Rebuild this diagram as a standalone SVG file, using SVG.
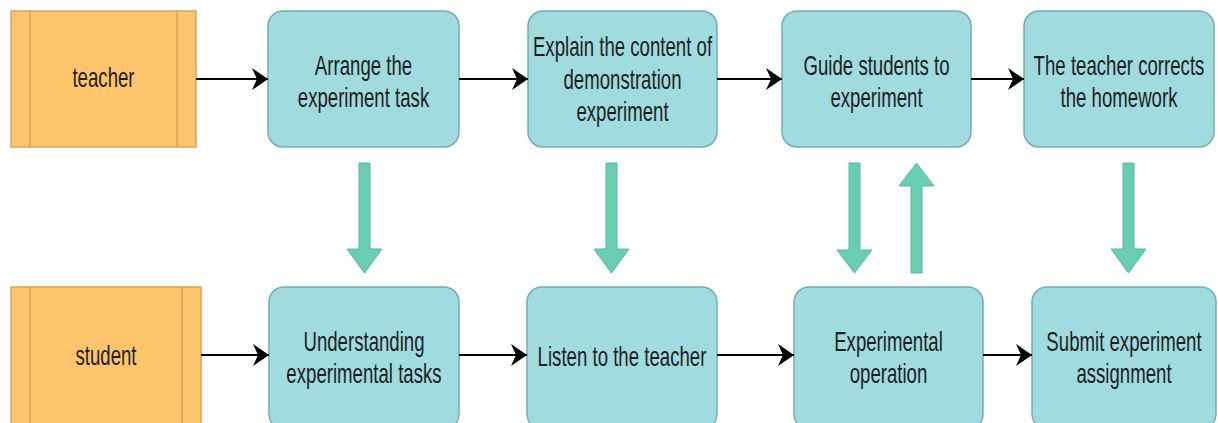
<svg xmlns="http://www.w3.org/2000/svg" width="1218" height="423" viewBox="0 0 1218 423">
  <defs>
    <style>
      .proc { fill: #A0DBDF; stroke: #74AEB2; stroke-width: 1.5; }
      .actor { fill: #FEC56C; stroke: #D6A55C; stroke-width: 1.5; }
      .t { font-family: "Liberation Sans", Arial, sans-serif; font-size: 27px; fill: #1e1e1e; text-anchor: middle; }
      .conn { stroke: #000; stroke-width: 2; fill: none; marker-end: url(#ah); }
      .block { fill: #69CDB1; stroke: #5DB99E; stroke-width: 1; }
    </style>
    <marker id="ah" markerUnits="userSpaceOnUse" markerWidth="18" markerHeight="24" viewBox="-17 -12 18 24" refX="0" refY="0" orient="auto">
      <path d="M0,0 L-16,-11 L-11,0 L-16,11 Z" fill="#000"/>
    </marker>
  </defs>

  <g id="teacher">
    <rect class="actor" x="11" y="11" width="185" height="136"/>
    <line x1="30" y1="11" x2="30" y2="147" stroke="#D6A55C" stroke-width="1.5"/>
    <line x1="177" y1="11" x2="177" y2="147" stroke="#D6A55C" stroke-width="1.5"/>
    <text class="t" transform="translate(103.5 0) scale(0.69 1)"><tspan x="0" y="87">teacher</tspan></text>
  </g>

  <g id="arrange">
    <rect class="proc" x="268" y="11" width="191" height="136" rx="15"/>
    <text class="t" transform="translate(363.5 0) scale(0.69 1)"><tspan x="0" y="75">Arrange the</tspan><tspan x="0" y="107.5">experiment task</tspan></text>
  </g>

  <g id="explain">
    <rect class="proc" x="528" y="11" width="189" height="136" rx="15"/>
    <text class="t" transform="translate(622.5 0) scale(0.69 1)"><tspan x="0" y="56.5">Explain the content of</tspan><tspan x="0" y="89">demonstration</tspan><tspan x="0" y="121.5">experiment</tspan></text>
  </g>

  <g id="guide">
    <rect class="proc" x="782" y="11" width="189" height="136" rx="15"/>
    <text class="t" transform="translate(876.5 0) scale(0.69 1)"><tspan x="0" y="75">Guide students to</tspan><tspan x="0" y="107.5">experiment</tspan></text>
  </g>

  <g id="corrects">
    <rect class="proc" x="1024" y="11" width="190" height="136" rx="15"/>
    <text class="t" transform="translate(1119 0) scale(0.69 1)"><tspan x="0" y="75">The teacher corrects</tspan><tspan x="0" y="107.5">the homework</tspan></text>
  </g>

  <g id="student">
    <rect class="actor" x="11" y="287" width="190" height="142"/>
    <line x1="30" y1="287" x2="30" y2="429" stroke="#D6A55C" stroke-width="1.5"/>
    <line x1="182" y1="287" x2="182" y2="429" stroke="#D6A55C" stroke-width="1.5"/>
    <text class="t" transform="translate(106 0) scale(0.69 1)"><tspan x="0" y="365">student</tspan></text>
  </g>

  <g id="understanding">
    <rect class="proc" x="269" y="287" width="190" height="142" rx="15"/>
    <text class="t" transform="translate(364 0) scale(0.69 1)"><tspan x="0" y="351">Understanding</tspan><tspan x="0" y="383.5">experimental tasks</tspan></text>
  </g>

  <g id="listen">
    <rect class="proc" x="527" y="287" width="190" height="142" rx="15"/>
    <text class="t" transform="translate(622 0) scale(0.69 1)"><tspan x="0" y="366">Listen to the teacher</tspan></text>
  </g>

  <g id="operation">
    <rect class="proc" x="794" y="287" width="189" height="142" rx="15"/>
    <text class="t" transform="translate(888.5 0) scale(0.69 1)"><tspan x="0" y="351">Experimental</tspan><tspan x="0" y="383.5">operation</tspan></text>
  </g>

  <g id="submit">
    <rect class="proc" x="1032" y="287" width="184" height="142" rx="15"/>
    <text class="t" transform="translate(1124 0) scale(0.69 1)"><tspan x="0" y="351">Submit experiment</tspan><tspan x="0" y="383.5">assignment</tspan></text>
  </g>

  <g id="connectors">
    <line class="conn" x1="196" y1="79" x2="268" y2="79"/>
    <line class="conn" x1="459" y1="79" x2="528" y2="79"/>
    <line class="conn" x1="717" y1="79" x2="782" y2="79"/>
    <line class="conn" x1="971" y1="79" x2="1024" y2="79"/>
    <line class="conn" x1="201" y1="355" x2="269" y2="355"/>
    <line class="conn" x1="459" y1="355" x2="527" y2="355"/>
    <line class="conn" x1="717" y1="355" x2="794" y2="355"/>
    <line class="conn" x1="983" y1="355" x2="1032" y2="355"/>

    <path class="block" d="M359,163 L370,163 L370,249 L382,249 L364.5,273 L347,249 L359,249 Z"/>
    <path class="block" d="M606,163 L617,163 L617,249 L629,249 L611.5,273 L594,249 L606,249 Z"/>
    <path class="block" d="M849,163 L860,163 L860,250 L872,250 L854.5,273 L837,250 L849,250 Z"/>
    <path class="block" d="M911,273 L922,273 L922,186 L934,186 L916.5,163 L899,186 L911,186 Z"/>
    <path class="block" d="M1123,163 L1134,163 L1134,249 L1146,249 L1128.5,273 L1111,249 L1123,249 Z"/>
  </g>
</svg>
